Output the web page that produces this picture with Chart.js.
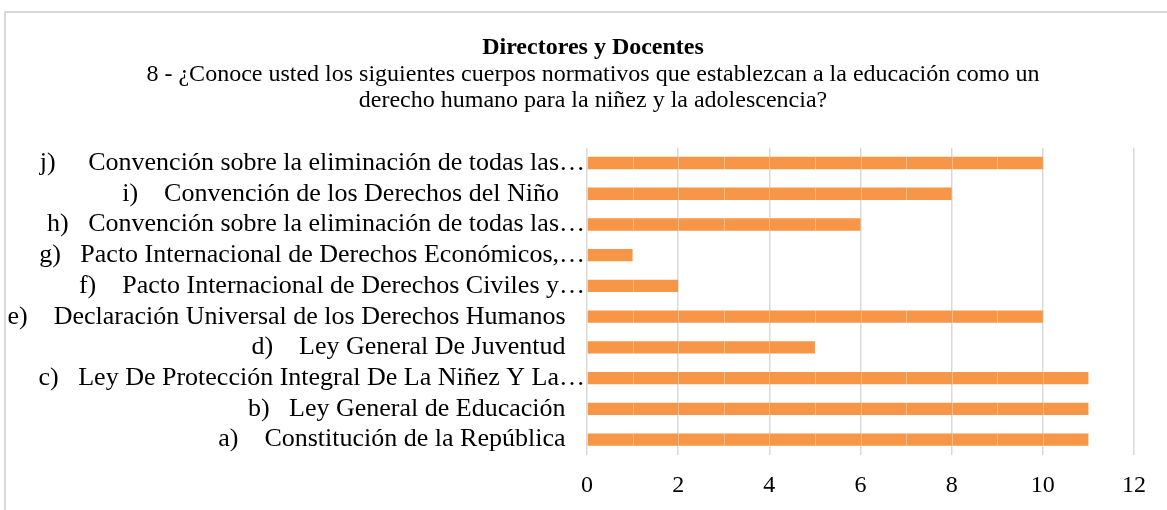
<!DOCTYPE html>
<html>
<head>
<meta charset="utf-8">
<script src="https://cdn.jsdelivr.net/npm/chart.js@4"></script>
<style>
  body { margin: 0; background: #fff; overflow: hidden; }
  #frame { position: absolute; left: 4px; top: 11px; width: 1180px; height: 520px; border: 2px solid #d9d9d9; }
  #wrap { position: absolute; left: 0; top: 0; width: 1186px; height: 510px; }
</style>
</head>
<body>
<div id="frame"></div>
<div id="wrap"><canvas id="chart"></canvas></div>
<script>
// categories from bottom (a) to top (j)
const categories = [
  "a)    Constitución de la República   ",
  "b)   Ley General de Educación   ",
  "c)   Ley De Protección Integral De La Niñez Y La…",
  "d)    Ley General De Juventud   ",
  "e)    Declaración Universal de los Derechos Humanos   ",
  "f)    Pacto Internacional de Derechos Civiles y…",
  "g)   Pacto Internacional de Derechos Económicos,…",
  "h)   Convención sobre la eliminación de todas las…",
  "i)    Convención de los Derechos del Niño    ",
  "j)     Convención sobre la eliminación de todas las…"
];
const respuestas = [11, 11, 11, 5, 10, 2, 1, 6, 8, 10];
const xTicks = [0, 2, 4, 6, 8, 10, 12];

const serif = "'Liberation Serif', 'Times New Roman', serif";

// faint lines at each unit inside the bars
const unitLines = {
  id: 'unitLines',
  afterDatasetsDraw(chart) {
    const ctx = chart.ctx;
    const xs = chart.scales.x;
    const meta = chart.getDatasetMeta(0);
    ctx.save();
    ctx.strokeStyle = 'rgba(255,255,255,0.35)';
    ctx.lineWidth = 1;
    meta.data.forEach((bar, i) => {
      const h = bar.height / 2;
      for (let k = 1; k < respuestas[i]; k++) {
        const x = Math.round(xs.getPixelForValue(k)) + 0.5;
        ctx.beginPath();
        ctx.moveTo(x, bar.y - h);
        ctx.lineTo(x, bar.y + h);
        ctx.stroke();
      }
    });
    ctx.restore();
  }
};

new Chart(document.getElementById('chart'), {
  type: 'bar',
  data: {
    labels: categories,
    datasets: [{
      data: respuestas,
      backgroundColor: '#F79646',
      borderWidth: 0,
      barPercentage: 0.8,
      categoryPercentage: 0.5
    }]
  },
  options: {
    indexAxis: 'y',
    responsive: true,
    maintainAspectRatio: false,
    animation: false,
    layout: { padding: { top: 0, right: 0, bottom: 13, left: 0 } },
    plugins: {
      legend: { display: false },
      tooltip: { enabled: false },
      title: {
        display: true,
        text: 'Directores y Docentes',
        color: '#000',
        font: { family: serif, size: 24, weight: 'bold', lineHeight: 1.2 },
        padding: { top: 33, bottom: 0 }
      },
      subtitle: {
        display: true,
        text: ['8 - ¿Conoce usted los siguientes cuerpos normativos que establezcan a la educación como un',
               'derecho humano para la niñez y la adolescencia?'],
        color: '#000',
        font: { family: serif, size: 24, lineHeight: 1.08 },
        padding: { top: 0, bottom: 34 }
      }
    },
    scales: {
      x: {
        min: 0,
        max: 12,
        afterBuildTicks: s => { s.ticks = xTicks.map(v => ({ value: v })); },
        afterFit: s => { s.height = 42; },
        grid: { color: '#d9d9d9', lineWidth: 1.5, drawTicks: false },
        border: { display: false },
        ticks: { color: '#000', padding: 16, font: { family: serif, size: 24 } }
      },
      y: {
        reverse: true,
        afterFit: s => { s.width = 587; },
        grid: { display: false, drawTicks: false },
        border: { display: false },
        ticks: { color: '#000', padding: 2, autoSkip: false, font: { family: serif, size: 26 } }
      },
      // empty right-hand space so the chart ends at 12 where the reference does
      yRight: {
        position: 'right',
        afterFit: s => { s.width = 52; },
        grid: { display: false, drawTicks: false },
        border: { display: false },
        ticks: { display: false }
      }
    }
  },
  plugins: [unitLines]
});
</script>
</body>
</html>
